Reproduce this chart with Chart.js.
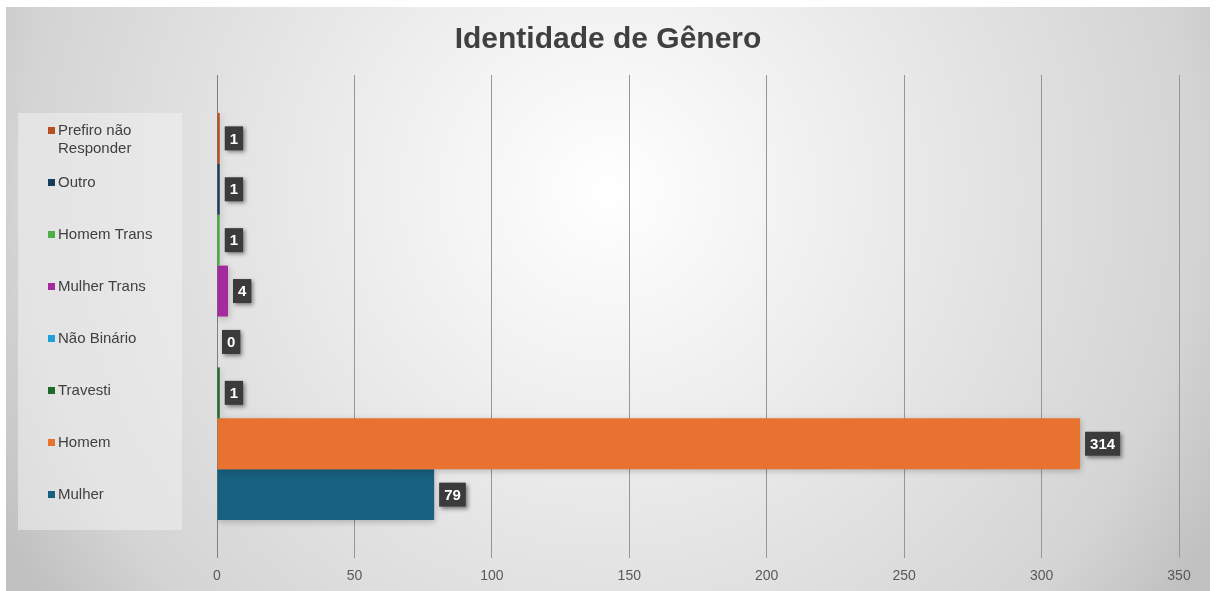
<!DOCTYPE html>
<html>
<head>
<meta charset="utf-8">
<script src="https://cdn.jsdelivr.net/npm/chart.js@4.4.1/dist/chart.umd.min.js"></script>
<style>
  html, body { margin: 0; padding: 0; background: #ffffff; }
  #wrap { width: 1216px; height: 591px; }
</style>
</head>
<body>
<div id="wrap"><canvas id="chart" width="1216" height="591"></canvas></div>
<script>
const categories = ['Prefiro não Responder', 'Outro', 'Homem Trans', 'Mulher Trans', 'Não Binário', 'Travesti', 'Homem', 'Mulher']
const values = [1, 1, 1, 4, 0, 1, 314, 79]
const colors = ['#B4501E', '#163E5C', '#4FAE45', '#A32B9E', '#1FA2DC', '#1E6B29', '#E87330', '#17607F']
const xMin = 0
const xMax = 350
const xStep = 50
const chartTitle = 'Identidade de Gênero'

const FONT = '"Liberation Sans", Arial, sans-serif'

// gradient card behind everything + title
const backdrop = {
    id: 'backdrop',
    beforeDraw(chart) {
        const c = chart.ctx
        c.save()
        c.fillStyle = '#ffffff'
        c.fillRect(0, 0, chart.width, chart.height)
        const g = c.createRadialGradient(608, 190, 0, 608, 190, 700)
        g.addColorStop(0, '#ffffff')
        g.addColorStop(0.3, '#f0f0f0')
        g.addColorStop(0.84, '#d4d4d4')
        g.addColorStop(1, '#c0c0c0')
        c.fillStyle = g
        c.fillRect(6, 7, 1204, 584)
        c.font = 'bold 30px ' + FONT
        c.fillStyle = '#404040'
        c.textAlign = 'center'
        c.textBaseline = 'middle'
        c.fillText(chartTitle, 608, 40)
        c.restore()
    }
}

// soft shadow under the bars
const barShadow = {
    id: 'barShadow',
    beforeDatasetsDraw(chart) {
        const c = chart.ctx
        c.save()
        c.shadowColor = 'rgba(0,0,0,0.22)'
        c.shadowBlur = 6
        c.shadowOffsetX = 1
        c.shadowOffsetY = 2
    },
    afterDatasetsDraw(chart) {
        chart.ctx.restore()
    }
}

// dark value boxes at the end of each bar
const valueBoxes = {
    id: 'valueBoxes',
    afterDatasetsDraw(chart) {
        const c = chart.ctx
        c.save()
        c.font = 'bold 15px ' + FONT
        chart.data.datasets.forEach((ds, i) => {
            const el = chart.getDatasetMeta(i).data[0]
            if (!el) return
            const txt = String(ds.data[0])
            const w = c.measureText(txt).width + 10
            const h = 24
            const x = el.x + 5
            const y = el.y - h / 2
            c.shadowColor = 'rgba(0,0,0,0.45)'
            c.shadowBlur = 4
            c.shadowOffsetX = 2
            c.shadowOffsetY = 2
            c.fillStyle = '#3b3b3b'
            c.fillRect(x, y, w, h)
            c.shadowColor = 'transparent'
            c.fillStyle = '#ffffff'
            c.textAlign = 'center'
            c.textBaseline = 'middle'
            c.fillText(txt, x + w / 2, el.y + 1)
        })
        c.restore()
    }
}

// legend panel on the left
const sideLegend = {
    id: 'sideLegend',
    afterDraw(chart) {
        const c = chart.ctx
        c.save()
        c.fillStyle = 'rgba(240,240,240,0.55)'
        c.fillRect(18, 113, 164, 417)
        c.font = '15px ' + FONT
        c.textBaseline = 'middle'
        c.textAlign = 'left'
        let y = 130
        chart.data.datasets.forEach((ds, i) => {
            const words = ds.label.split(' ')
            const lines = []
            let cur = ''
            words.forEach(w => {
                const t = cur ? cur + ' ' + w : w
                if (c.measureText(t).width > 105 && cur) { lines.push(cur); cur = w } else cur = t
            })
            lines.push(cur)
            c.fillStyle = ds.backgroundColor
            c.fillRect(48, y - 3, 7, 7)
            c.fillStyle = '#404040'
            lines.forEach((l, k) => c.fillText(l, 58, y + k * 18 + 1))
            y += 52
        })
        c.restore()
    }
}

const data = {
    labels: [''],
    datasets: categories.map((name, i) => ({
        label: name,
        data: [values[i]],
        backgroundColor: colors[i],
        borderWidth: 0,
        barPercentage: 1,
        categoryPercentage: 0.843
    }))
}

const config = {
    type: 'bar',
    data: data,
    options: {
        indexAxis: 'y',
        responsive: false,
        animation: false,
        layout: { padding: { left: 217, right: 37, top: 75, bottom: 5 } },
        scales: {
            x: {
                min: xMin,
                max: xMax,
                afterFit: (scale) => { scale.height = 28 },
                ticks: {
                    stepSize: xStep,
                    padding: 10,
                    color: '#595959',
                    font: { family: FONT, size: 14 }
                },
                grid: {
                    color: (ctx) => ctx.tick && ctx.tick.value === 0 ? '#808080' : '#969696',
                    lineWidth: 1,
                    drawTicks: false
                },
                border: { display: false }
            },
            y: { display: false }
        },
        plugins: {
            legend: { display: false },
            tooltip: { enabled: false },
            title: { display: false }
        }
    },
    plugins: [backdrop, barShadow, valueBoxes, sideLegend]
}

new Chart(document.getElementById('chart'), config)
</script>
</body>
</html>
